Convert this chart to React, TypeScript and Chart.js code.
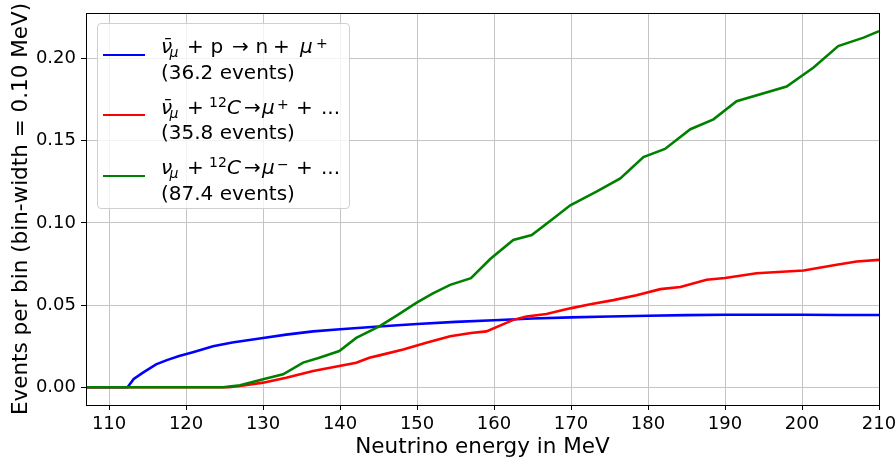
import React, { useEffect, useRef } from "react";
import { Chart, registerables } from "chart.js";

Chart.register(...registerables);

// ---- data ----
const blueE = [107, 112.4, 113.2, 114.4, 116.1, 117.5, 119.1, 121, 123.5, 126, 130, 133, 136.5, 140, 145, 150, 155, 160, 165, 170, 175, 180, 185, 190, 195, 200, 205, 210];
const blueV = [0, 0, 0.005, 0.0089, 0.0139, 0.0165, 0.019, 0.0215, 0.025, 0.0272, 0.03, 0.032, 0.034, 0.0353, 0.037, 0.0385, 0.0398, 0.0408, 0.0418, 0.0425, 0.043, 0.0435, 0.0439, 0.0441, 0.0441, 0.0441, 0.044, 0.044];

const redE = [107, 125.5, 127, 130, 133, 136.5, 139.9, 142.1, 143.8, 145.1, 148.2, 151.2, 154.3, 157, 159, 162.5, 164.2, 166.8, 169.9, 172.5, 175.5, 178.5, 181.6, 184.2, 187.6, 190, 194.1, 200.2, 204.5, 207.1, 210];
const redV = [0, 0, 0.0008, 0.0028, 0.0058, 0.0099, 0.0129, 0.0149, 0.018, 0.0194, 0.023, 0.027, 0.031, 0.033, 0.034, 0.041, 0.043, 0.0446, 0.048, 0.0505, 0.053, 0.056, 0.0597, 0.061, 0.0654, 0.0665, 0.0694, 0.071, 0.0745, 0.0765, 0.0775];

const greenE = [107, 124.8, 127, 130, 132.6, 135.2, 137.3, 139.9, 142.1, 145.1, 147.5, 149.9, 152, 154.3, 157, 159.5, 162.5, 164.9, 167.7, 169.9, 173.3, 176.4, 179.4, 182.2, 185.5, 188.5, 191.5, 198, 201.5, 204.7, 208, 210];
const greenV = [0, 0, 0.0012, 0.0048, 0.0079, 0.015, 0.018, 0.022, 0.03, 0.037, 0.044, 0.0513, 0.057, 0.0623, 0.0664, 0.078, 0.0896, 0.0926, 0.1027, 0.1107, 0.119, 0.127, 0.14, 0.145, 0.157, 0.163, 0.174, 0.183, 0.1945, 0.2076, 0.2127, 0.2167];

const xTitle = "Neutrino energy in MeV";
const yTitle = "Events per bin (bin-width = 0.10 MeV)";
const eventCounts = ["(36.2 events)", "(35.8 events)", "(87.4 events)"];
const colors = ["#0000ff", "#ff0000", "#008000"];

const X_MIN = 107;
const X_MAX = 210;
const Y_MIN = -0.0108;
const Y_MAX = 0.2277;

const FONT = "'DejaVu Sans', sans-serif";

const toPts = (e: number[], v: number[]) => e.map((x, i) => ({ x, y: v[i] }));

const framePlugin = {
  id: "frame",
  afterDraw(chart: any) {
    const { ctx, chartArea } = chart;
    ctx.save();
    ctx.strokeStyle = "#000";
    ctx.lineWidth = 1;
    ctx.strokeRect(
      Math.round(chartArea.left) + 0.5,
      Math.round(chartArea.top) + 0.5,
      Math.round(chartArea.right - chartArea.left),
      Math.round(chartArea.bottom - chartArea.top)
    );
    ctx.restore();
  },
};

// legend math pieces: [text, x offset, kind]; kind: n normal, i italic, sub, sup, pre (pre-superscript)
type Piece = [string, number, string];
const legendLine1: Piece[][] = [
  [["ν̄", 0, "i"], ["μ", 8.5, "sub"], ["+", 26, "n"], ["p", 49.5, "n"], ["→", 71, "n"], ["n", 94.5, "n"], ["+", 112, "n"], ["μ", 139, "i"], ["+", 155, "sup"]],
  [["ν̄", 0, "i"], ["μ", 8.5, "sub"], ["+", 26, "n"], ["12", 48, "pre"], ["C", 66, "i"], ["→", 83, "n"], ["μ", 101, "i"], ["+", 116, "sup"], ["+", 135, "n"], ["...", 160, "n"]],
  [["ν", 0, "i"], ["μ", 8.5, "sub"], ["+", 26, "n"], ["12", 48, "pre"], ["C", 66, "i"], ["→", 83, "n"], ["μ", 101, "i"], ["−", 116, "sup"], ["+", 135, "n"], ["...", 160, "n"]],
];

const pieceStyle = (kind: string, x: number): React.CSSProperties => {
  const base: React.CSSProperties = { position: "absolute", left: x, top: 0, lineHeight: "24px", whiteSpace: "nowrap" };
  if (kind === "i") return { ...base, fontStyle: "italic" };
  if (kind === "sub") return { ...base, fontStyle: "italic", fontSize: 14, top: 6 };
  if (kind === "sup") return { ...base, fontSize: 14, top: -3 };
  if (kind === "pre") return { ...base, fontSize: 14, top: -5 };
  return base;
};

export default function App() {
  const ref = useRef<HTMLCanvasElement>(null);

  useEffect(() => {
    if (!ref.current) return;
    const chart = new Chart(ref.current, {
      type: "line",
      data: {
        datasets: [
          { data: toPts(blueE, blueV), borderColor: colors[0], borderWidth: 2.6, pointRadius: 0, tension: 0, order: 3 },
          { data: toPts(redE, redV), borderColor: colors[1], borderWidth: 2.6, pointRadius: 0, tension: 0, order: 2 },
          { data: toPts(greenE, greenV), borderColor: colors[2], borderWidth: 2.6, pointRadius: 0, tension: 0, order: 1 },
        ],
      },
      options: {
        animation: false,
        responsive: false,
        layout: { padding: { top: 13, right: 17, left: 0, bottom: 0 } },
        plugins: { legend: { display: false }, tooltip: { enabled: false } },
        scales: {
          x: {
            type: "linear",
            min: X_MIN,
            max: X_MAX,
            afterFit: (s: any) => {
              s.height = 60;
              s.paddingLeft = 0;
              s.paddingRight = 0;
            },
            ticks: {
              stepSize: 10,
              includeBounds: false,
              autoSkip: false,
              maxRotation: 0,
              color: "#000",
              padding: 4,
              font: { family: FONT, size: 18 },
              callback: (v: any) => String(v),
            },
            grid: { color: "#c4c4c4", lineWidth: 1, tickLength: 5, tickColor: "#000" },
            border: { display: true, color: "#000", width: 1 },
            title: {
              display: true,
              text: xTitle,
              color: "#000",
              font: { family: FONT, size: 21.5 },
              padding: { top: 0, bottom: 4.5 },
            },
          },
          y: {
            type: "linear",
            min: Y_MIN,
            max: Y_MAX,
            afterFit: (s: any) => {
              s.width = 86;
              s.paddingTop = 0;
              s.paddingBottom = 0;
            },
            ticks: {
              stepSize: 0.05,
              includeBounds: false,
              color: "#000",
              padding: 5,
              font: { family: FONT, size: 18 },
              callback: (v: any) => Number(v).toFixed(2),
            },
            grid: { color: "#c4c4c4", lineWidth: 1, tickLength: 5, tickColor: "#000" },
            border: { display: true, color: "#000", width: 1 },
            title: {
              display: true,
              text: yTitle,
              color: "#000",
              font: { family: FONT, size: 21.5 },
              padding: { top: 9, bottom: 0 },
            },
          },
        },
      },
      plugins: [framePlugin],
    });
    return () => chart.destroy();
  }, []);

  const baselines = [53, 113.5, 174];

  return (
    <div style={{ position: "absolute", left: 0, top: 0, width: 896, height: 465 }}>
      <canvas ref={ref} width={896} height={465} style={{ display: "block" }} />
      <div
        style={{
          position: "absolute",
          left: 97,
          top: 23,
          width: 253,
          height: 186,
          border: "1px solid #d0d0d0",
          borderRadius: 4,
          background: "rgba(255,255,255,0.8)",
          boxSizing: "border-box",
        }}
      />
      {baselines.map((b, i) => (
        <React.Fragment key={i}>
          <div
            style={{
              position: "absolute",
              left: 103,
              top: b + 0.7,
              width: 42,
              height: 0,
              borderTop: `2.6px solid ${colors[i]}`,
            }}
          />
          <div
            style={{
              position: "absolute",
              left: 161,
              top: b - 18.9,
              width: 190,
              height: 24,
              fontFamily: FONT,
              fontSize: 20,
              color: "#000",
            }}
          >
            {legendLine1[i].map(([t, x, k], j) => (
              <span key={j} style={pieceStyle(k, x)}>
                {t}
              </span>
            ))}
          </div>
          <div
            style={{
              position: "absolute",
              left: 161,
              top: b - 18.9 + 25.5,
              fontFamily: FONT,
              fontSize: 20,
              lineHeight: "24px",
              color: "#000",
              whiteSpace: "nowrap",
            }}
          >
            {eventCounts[i]}
          </div>
        </React.Fragment>
      ))}
    </div>
  );
}
